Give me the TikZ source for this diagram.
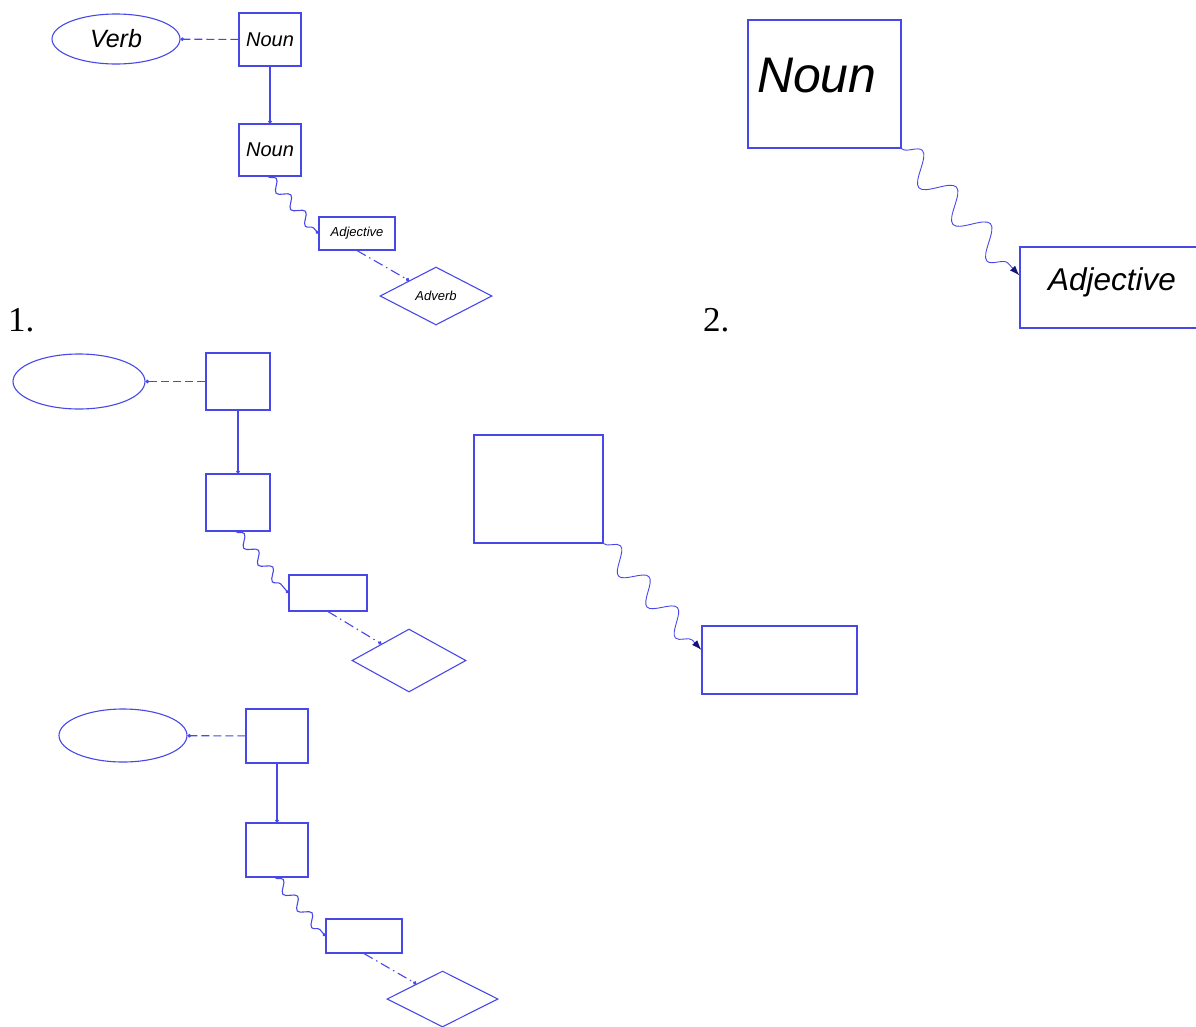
\documentclass[tikz,border=0pt]{standalone}
\usepackage{fontspec}
\setmainfont{Liberation Serif}
\newfontfamily\arialfont{Liberation Sans}
\usetikzlibrary{arrows.meta,shapes.geometric,decorations.pathmorphing}
\definecolor{diagblue}{RGB}{72,72,232}
\definecolor{tipnavy}{RGB}{20,20,120}

\begin{document}
\begin{tikzpicture}[x=1pt,y=-1pt]

\tikzset{word/.style = {shape=rectangle,draw=diagblue,line width=1.1pt,inner sep=0pt,font=\arialfont\itshape}}
\tikzset{wordoval/.style = {word,shape=ellipse}}
\tikzset{wordrhomb/.style = {word,shape=diamond,shape aspect=2}}
\tikzset{edge/.style = {draw=diagblue,line width=1.1pt}}
\tikzset{dotend/.style = {-{Circle[length=3.5pt,color=diagblue]}}}
\tikzset{wave/.style 2 args = {decorate,decoration={snake,amplitude=#1,segment length=#2,post length=3pt}}}
\tikzset{navyend/.style = {-{Latex[length=10pt,width=7pt,color=tipnavy]}}}
\tikzset{number/.style = {anchor=base west,inner sep=0pt,font=\fontsize{35}{40}\selectfont}}

\useasboundingbox (0,0) rectangle (1196,1026);

% 1. filled in
\node[wordoval,minimum width=128pt,minimum height=50pt,font=\arialfont\itshape\fontsize{25}{28}\selectfont] (verb1) at (116,39) {Verb};
\node[word,minimum width=62pt,minimum height=53pt,font=\arialfont\itshape\fontsize{20}{24}\selectfont] (noun1) at (270,39.5) {Noun};
\node[word,minimum width=62pt,minimum height=52pt,font=\arialfont\itshape\fontsize{20}{24}\selectfont] (noun2) at (270,150) {Noun};
\node[word,minimum width=76pt,minimum height=33pt,font=\arialfont\itshape\fontsize{13}{15}\selectfont] (adj1) at (357,233.5) {Adjective};
\node[wordrhomb,minimum width=112pt,minimum height=58pt,font=\arialfont\itshape\fontsize{13}{15}\selectfont] (adv1) at (436,296) {Adverb};
\node[number] (one) at (8,331) {1.};
%edges
\draw[edge,dotend,dash pattern=on 8pt off 4pt] (noun1) to (verb1);
\draw[edge,dotend] (noun1) to (noun2);
\draw[edge,dotend,wave={5pt}{22pt}] ([xshift=-2pt]noun2.south) -- (adj1.west);
\draw[edge,dotend,dash pattern=on 10pt off 4pt on 1.5pt off 4pt] (adj1.south) -- (adv1);

% 2. filled in
\node[word,minimum width=153pt,minimum height=128pt,text width=135pt,inner xsep=9pt,text height=72pt,text depth=56pt,align=left,font=\arialfont\itshape\fontsize{50}{56}\selectfont] (bignoun) at (824.5,84) {Noun};
\node[word,minimum width=190pt,minimum height=81pt,text width=134pt,inner xsep=28pt,text height=43pt,text depth=38pt,align=left,font=\arialfont\itshape\fontsize{31.5}{36}\selectfont] (bigadj) at (1115,287.5) {Adjective};
\node[number] (two) at (703,331) {2.};
%edges
\draw[edge,navyend,wave={14pt}{50pt},line width=0.9pt] (bignoun.south east) -- ([yshift=12pt]bigadj.west);

% 1. empty
\node[wordoval,minimum width=132pt,minimum height=55pt] (verb3) at (79,381.5) {};
\node[word,minimum width=64pt,minimum height=57pt] (noun3) at (238,381.5) {};
\node[word,minimum width=64pt,minimum height=57pt] (noun4) at (238,502.5) {};
\node[word,minimum width=78pt,minimum height=36pt] (adj3) at (328,593) {};
\node[wordrhomb,minimum width=114pt,minimum height=63pt] (adv3) at (409,660.5) {};
%edges
\draw[edge,dotend,dash pattern=on 8pt off 4pt] (noun3) to (verb3);
\draw[edge,dotend] (noun3) to (noun4);
\draw[edge,dotend,wave={5pt}{22pt}] ([xshift=-2pt]noun4.south) -- (adj3.west);
\draw[edge,dotend,dash pattern=on 10pt off 4pt on 1.5pt off 4pt] (adj3.south) -- (adv3);

% 2. empty
\node[word,minimum width=129pt,minimum height=108pt] (bignoun4) at (538.5,489) {};
\node[word,minimum width=155pt,minimum height=68pt] (bigadj4) at (779.5,660) {};
%edges
\draw[edge,navyend,wave={11pt}{42pt},line width=0.9pt] (bignoun4.south east) -- ([yshift=10pt]bigadj4.west);

% 1. empty again
\node[wordoval,minimum width=128pt,minimum height=53pt] (verb5) at (123,735.5) {};
\node[word,minimum width=62pt,minimum height=54pt] (noun5) at (277,736) {};
\node[word,minimum width=62pt,minimum height=54pt] (noun6) at (277,850) {};
\node[word,minimum width=76pt,minimum height=34pt] (adj5) at (364,936) {};
\node[wordrhomb,minimum width=111pt,minimum height=56pt] (adv5) at (442.5,999) {};
%edges
\draw[edge,dotend,dash pattern=on 8pt off 4pt] (noun5) to (verb5);
\draw[edge,dotend] (noun5) to (noun6);
\draw[edge,dotend,wave={5pt}{22pt}] ([xshift=-2pt]noun6.south) -- (adj5.west);
\draw[edge,dotend,dash pattern=on 10pt off 4pt on 1.5pt off 4pt] (adj5.south) -- (adv5);
\end{tikzpicture}
\end{document}
